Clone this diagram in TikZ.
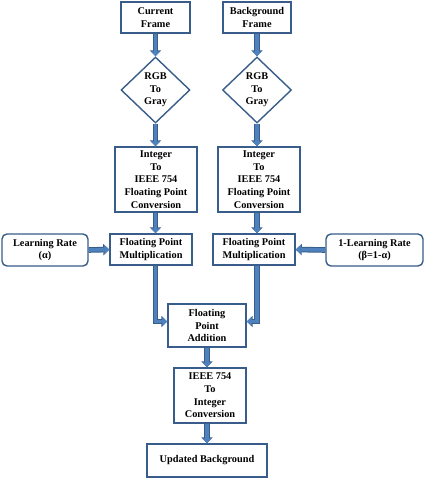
\documentclass[tikz,border=0pt]{standalone}
\usepackage{fontspec}
\setmainfont{Liberation Serif}
\usetikzlibrary{positioning, arrows.meta, shapes.geometric, calc}
\definecolor{cEDGE}{HTML}{385D8A}
\definecolor{cFILL}{HTML}{4F81BD}
\tikzset{
  stepbox/.style={
    draw=cEDGE, line width=1.4pt,
    fill=white,
    text=black,
    align=center,
    inner sep=1pt,
    font=\fontsize{10.3}{12.6}\selectfont\bfseries
  },
  roundbox/.style={
    stepbox,
    rounded corners=5pt
  },
  decision/.style={
    stepbox,
    diamond,
    inner sep=0pt,
    minimum width=69pt,
    minimum height=66pt
  },
  flow/.style={
    draw=cFILL, line width=3.6pt,
    line join=miter,
    -{Triangle[length=5pt,width=9pt]},
    preaction={draw=cEDGE, line width=5.6pt, line join=miter,
      -{Triangle[length=6pt,width=11pt]}}
  }
}

\begin{document}
\begin{tikzpicture}[x=1pt, y=-1pt]
  \useasboundingbox (0,0) rectangle (425,480);

  % inputs
  \node[stepbox, minimum width=69pt, minimum height=31pt] (cur) at (155.5,17.5) {Current\\Frame};
  \node[stepbox, minimum width=68pt, minimum height=31pt] (bg) at (257,17.5) {Background\\Frame};

  % grey conversion
  \node[decision] (grayL) at (155.5,90) {RGB\\To\\Gray};
  \node[decision] (grayR) at (257,90) {RGB\\To\\Gray};

  % integer to float
  \node[stepbox, minimum width=82pt, minimum height=65pt] (intL) at (156,179.5) {Integer\\To\\IEEE 754\\Floating Point\\Conversion};
  \node[stepbox, minimum width=82pt, minimum height=65pt] (intR) at (259,179.5) {Integer\\To\\IEEE 754\\Floating Point\\Conversion};

  % weighting
  \node[roundbox, minimum width=86pt, minimum height=32pt] (rateL) at (45,250) {Learning Rate\\(α)};
  \node[stepbox, minimum width=82pt, minimum height=31pt] (multL) at (151,249.5) {Floating Point\\Multiplication};
  \node[stepbox, minimum width=82pt, minimum height=31pt] (multR) at (254,249.5) {Floating Point\\Multiplication};
  \node[roundbox, minimum width=97pt, minimum height=32pt] (rateR) at (374.5,250) {1-Learning Rate\\(β=1-α)};

  % sum and output
  \node[stepbox, minimum width=78pt, minimum height=43pt] (add) at (207,325.5) {Floating\\Point\\Addition};
  \node[stepbox, minimum width=72pt, minimum height=55pt] (conv) at (210,395.5) {IEEE 754\\To\\Integer\\Conversion};
  \node[stepbox, minimum width=120pt, minimum height=33pt] (out) at (207,460.5) {Updated Background};

  \draw[flow] (cur.south) -- (grayL.north);
  \draw[flow] (bg.south) -- (grayR.north);
  \draw[flow] (grayL.south) -- (intL.north -| grayL.south);
  \draw[flow] (grayR.south) -- (intR.north -| grayR.south);
  \draw[flow] (intL.south -| grayL.south) -- (multL.north -| grayL.south);
  \draw[flow] (intR.south -| grayR.south) -- (multR.north -| grayR.south);
  \draw[flow] (rateL.east) -- (multL.west);
  \draw[flow] (rateR.west) -- (multR.east);
  \draw[flow] (multL.south -| grayL.south) |- ($(add.west)+(0,-4)$);
  \draw[flow] (multR.south -| grayR.south) |- ($(add.east)+(0,-4)$);
  \draw[flow] (add.south) -- (conv.north -| add.south);
  \draw[flow] (conv.south -| add.south) -- (out.north -| add.south);
\end{tikzpicture}
\end{document}
